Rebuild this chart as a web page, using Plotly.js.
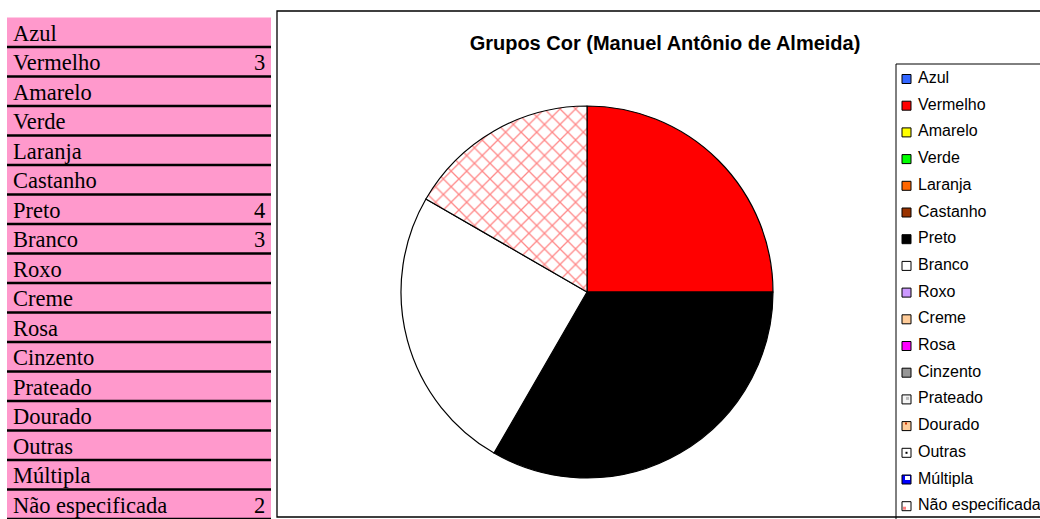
<!DOCTYPE html>
<html>
<head>
<meta charset="utf-8">
<script src="https://cdn.plot.ly/plotly-3.0.1.min.js"></script>
<style>html,body{margin:0;padding:0;background:#fff;}#chart{width:1040px;height:519px;}</style>
</head>
<body>
<div id="chart"></div>
<script>
// ---- data ----
const categories = ["Azul","Vermelho","Amarelo","Verde","Laranja","Castanho","Preto","Branco","Roxo","Creme","Rosa","Cinzento","Prateado","Dourado","Outras","Múltipla","Não especificada"];
const counts = [null,3,null,null,null,null,4,3,null,null,null,null,null,null,null,null,2];
const sliceColors = ["#3366FF","#FF0000","#FFFF00","#00FF00","#FF6600","#993300","#000000","#FFFFFF","#CC99FF","#FFCC99","#FF00FF","#969696","#F4F4F4","#FFCC99","#FFFFFF","#0000FF","#FFFFFF"];
const slicePatterns = ["","","","","","","","","","","","","","","","","x"];
const chartTitle = "Grupos Cor (Manuel Antônio de Almeida)";

// ---- layout helpers (pixel coordinate system on hidden axes) ----
const W = 1040, H = 519;
const tableX0 = 7, tableX1 = 271, tableY0 = 17.5, rowH = 29.5;
const legX = 902, legY0 = 79, legStep = 26.7;

const shapes = [];
const annotations = [];

// table background
shapes.push({type:"rect", xref:"x", yref:"y", x0:tableX0, x1:tableX1, y0:tableY0, y1:tableY0 + rowH*categories.length, fillcolor:"#FF99CC", line:{width:0}, layer:"below"});
categories.forEach((c, i) => {
  const top = tableY0 + rowH*i;
  shapes.push({type:"line", xref:"x", yref:"y", x0:tableX0, x1:tableX1, y0:top+rowH, y1:top+rowH, line:{color:"#000", width:2.5}});
  annotations.push({xref:"x", yref:"y", x:tableX0+4, y:top+rowH/2+1, text:c, showarrow:false, xanchor:"left", yanchor:"middle", font:{family:"Liberation Serif, Times New Roman, serif", size:22.5, color:"#000"}});
  if (counts[i] !== null) {
    annotations.push({xref:"x", yref:"y", x:tableX1-4, y:top+rowH/2+1, text:String(counts[i]), showarrow:false, xanchor:"right", yanchor:"middle", font:{family:"Liberation Serif, Times New Roman, serif", size:22.5, color:"#000"}});
  }
});

// chart frame
shapes.push({type:"rect", xref:"x", yref:"y", x0:277, x1:1050, y0:11, y1:517, line:{color:"#000", width:1.3}, fillcolor:"rgba(0,0,0,0)"});
// legend frame
shapes.push({type:"rect", xref:"x", yref:"y", x0:896, x1:1050, y0:64, y1:530, line:{color:"#000", width:1}, fillcolor:"rgba(0,0,0,0)"});

// legend entries
categories.forEach((c, i) => {
  const cy = legY0 + legStep*i;
  shapes.push({type:"rect", xref:"x", yref:"y", x0:legX, x1:legX+9, y0:cy-4.5, y1:cy+4.5, fillcolor:sliceColors[i], line:{color:"#000", width:1}});
  annotations.push({xref:"x", yref:"y", x:legX+14, y:cy-1.5, text:c, showarrow:false, xanchor:"left", yanchor:"middle", font:{family:"Liberation Sans, Arial, sans-serif", size:16, color:"#000"}});
});
// small pattern hints inside some legend swatches
function innerMark(i, color, dx0, dx1, dy0, dy1){
  const cy = legY0 + legStep*i;
  shapes.push({type:"rect", xref:"x", yref:"y", x0:legX+dx0, x1:legX+dx1, y0:cy-4.5+dy0, y1:cy-4.5+dy1, fillcolor:color, line:{width:0}});
}
innerMark(12, "#BBBBBB", 4, 7, 2, 5);
innerMark(13, "#CC3300", 3, 5, 1, 3);
innerMark(14, "#000000", 3.5, 5.5, 3.5, 5.5);
innerMark(15, "#FFFFFF", 3, 8, 1, 5);
innerMark(16, "#FF8080", 1, 4, 5, 8);

const pie = {
  type:"pie",
  labels:categories,
  values:counts,
  sort:false,
  direction:"clockwise",
  rotation:0,
  textinfo:"none",
  hoverinfo:"label+value+percent",
  showlegend:false,
  domain:{x:[401/W, 773/W], y:[1-478/H, 1-106/H]},
  marker:{
    colors:sliceColors,
    line:{color:"#000", width:1.2},
    pattern:{shape:slicePatterns, fgcolor:"#FF8888", bgcolor:"#FFFFFF", size:11, solidity:0.22}
  }
};

const layout = {
  width:W, height:H,
  margin:{l:0, r:0, t:0, b:0},
  paper_bgcolor:"#FFFFFF",
  plot_bgcolor:"rgba(0,0,0,0)",
  showlegend:false,
  title:{text:"<b>"+chartTitle+"</b>", x:665/W, xanchor:"center", y:1-43/H, yanchor:"middle", xref:"paper", yref:"paper", font:{family:"Liberation Sans, Arial, sans-serif", size:20, color:"#000"}},
  xaxis:{range:[0, W], domain:[0,1], visible:false, fixedrange:true},
  yaxis:{range:[H, 0], domain:[0,1], visible:false, fixedrange:true},
  shapes:shapes,
  annotations:annotations
};

Plotly.newPlot("chart", [pie], layout, {displayModeBar:false, staticPlot:true});
</script>
</body>
</html>
